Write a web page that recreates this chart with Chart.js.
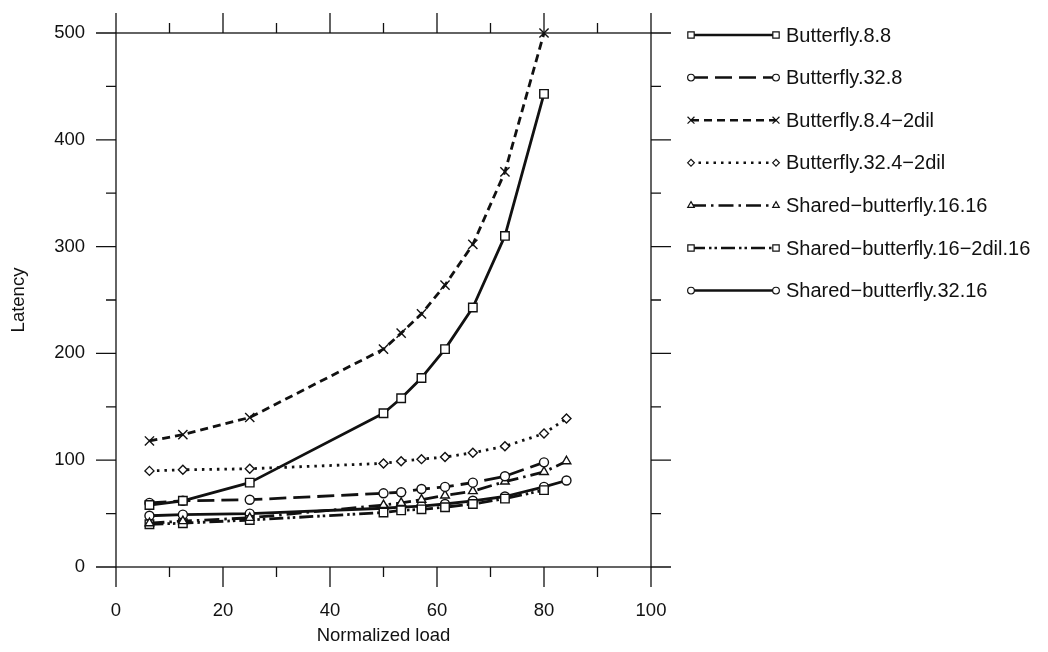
<!DOCTYPE html>
<html>
<head>
<meta charset="utf-8">
<script src="https://cdn.jsdelivr.net/npm/chart.js@4.4.1/dist/chart.umd.min.js"></script>
<style>
  html, body { margin: 0; padding: 0; background: #ffffff; }
  #wrap { width: 1048px; height: 652px; }
</style>
</head>
<body>
<div id="wrap"><canvas id="c" width="1048" height="652"></canvas></div>
<script>
// Normalized load at which each configuration was measured
const loadsShort = [6.25, 12.5, 25, 50, 53.3, 57.1, 61.5, 66.7, 72.7, 80];
const loadsLong  = [6.25, 12.5, 25, 50, 53.3, 57.1, 61.5, 66.7, 72.7, 80, 84.2];

// Latency per network configuration
const butterfly_8_8          = [58, 62, 79, 144, 158, 177, 204, 243, 310, 443];
const butterfly_32_8         = [60, 62, 63, 69, 70, 73, 75, 79, 85, 98];
const butterfly_8_4_2dil     = [118, 124, 140, 204, 219, 237, 264, 302, 370, 500];
const butterfly_32_4_2dil    = [90, 91, 92, 97, 99, 101, 103, 107, 113, 125, 139];
const shared_16_16           = [41, 43, 46, 58, 60, 63, 67, 71, 80, 89, 99];
const shared_16_2dil_16      = [40, 41, 44, 51, 53, 54, 56, 59, 64, 72];
const shared_32_16           = [48, 49, 50, 55, 56, 57, 59, 62, 66, 75, 81];

const seriesNames = [
  'Butterfly.8.8',
  'Butterfly.32.8',
  'Butterfly.8.4\u22122dil',
  'Butterfly.32.4\u22122dil',
  'Shared\u2212butterfly.16.16',
  'Shared\u2212butterfly.16\u22122dil.16',
  'Shared\u2212butterfly.32.16'
];

// Axis ticks
const xMajorTicks = [0, 20, 40, 60, 80, 100];
const xMinorTicks = [10, 30, 50, 70, 90];
const yMajorTicks = [0, 100, 200, 300, 400, 500];
const yMinorTicks = [50, 150, 250, 350, 450];

const INK = '#111111';
const FONT = '"Liberation Sans", Arial, Helvetica, sans-serif';

function pts(xs, ys) { return ys.map((y, i) => ({ x: xs[i], y: y })); }

function series(label, xs, ys, dash, style, radius) {
  return {
    label: label,
    data: pts(xs, ys),
    borderColor: INK,
    backgroundColor: '#ffffff',
    borderWidth: 2.8,
    borderDash: dash,
    borderCapStyle: 'butt',
    borderJoinStyle: 'round',
    pointStyle: style,
    pointRadius: radius,
    pointBorderWidth: 1.4,
    pointBorderColor: INK,
    pointBackgroundColor: '#ffffff',
    tension: 0,
    clip: 10,
    fill: false
  };
}

const datasets = [
  series(seriesNames[0], loadsShort, butterfly_8_8,       [],                      'rect',     6),
  series(seriesNames[1], loadsShort, butterfly_32_8,      [17, 7],                 'circle',   4.5),
  series(seriesNames[2], loadsShort, butterfly_8_4_2dil,  [8, 5],                  'crossRot', 6.5),
  series(seriesNames[3], loadsLong,  butterfly_32_4_2dil, [2.5, 5],                'rectRot',  4.5),
  series(seriesNames[4], loadsLong,  shared_16_16,        [15, 5, 2.5, 5],         'triangle', 5),
  series(seriesNames[5], loadsShort, shared_16_2dil_16,   [14, 4, 2.5, 3, 2.5, 4], 'rect',     6),
  series(seriesNames[6], loadsLong,  shared_32_16,        [],                      'circle',   4.5)
];

// Frame, outward ticks, tick labels, axis titles and the side legend
const frameAndLegend = {
  id: 'frameAndLegend',
  afterDraw(chart) {
    const ctx = chart.ctx;
    const xs = chart.scales.x, ys = chart.scales.y;
    const a = chart.chartArea;
    ctx.save();
    ctx.strokeStyle = INK;
    ctx.lineWidth = 1.3;
    ctx.setLineDash([]);
    // frame
    ctx.strokeRect(a.left, a.top, a.right - a.left, a.bottom - a.top);
    ctx.beginPath();
    xMajorTicks.forEach(v => {
      const px = xs.getPixelForValue(v);
      ctx.moveTo(px, a.bottom); ctx.lineTo(px, a.bottom + 20);
      ctx.moveTo(px, a.top);    ctx.lineTo(px, a.top - 20);
    });
    xMinorTicks.forEach(v => {
      const px = xs.getPixelForValue(v);
      ctx.moveTo(px, a.bottom); ctx.lineTo(px, a.bottom + 10);
      ctx.moveTo(px, a.top);    ctx.lineTo(px, a.top - 10);
    });
    yMajorTicks.forEach(v => {
      const py = ys.getPixelForValue(v);
      ctx.moveTo(a.left, py);  ctx.lineTo(a.left - 20, py);
      ctx.moveTo(a.right, py); ctx.lineTo(a.right + 20, py);
    });
    yMinorTicks.forEach(v => {
      const py = ys.getPixelForValue(v);
      ctx.moveTo(a.left, py);  ctx.lineTo(a.left - 10, py);
      ctx.moveTo(a.right, py); ctx.lineTo(a.right + 10, py);
    });
    ctx.stroke();

    // tick labels
    ctx.fillStyle = INK;
    ctx.font = '18.5px ' + FONT;
    ctx.textAlign = 'center';
    ctx.textBaseline = 'middle';
    xMajorTicks.forEach(v => ctx.fillText(String(v), xs.getPixelForValue(v), a.bottom + 44));
    ctx.textAlign = 'right';
    yMajorTicks.forEach(v => ctx.fillText(String(v), a.left - 31, ys.getPixelForValue(v)));

    // axis titles
    ctx.textAlign = 'center';
    ctx.fillText('Normalized load', (a.left + a.right) / 2, a.bottom + 69);
    ctx.save();
    ctx.translate(19, (a.top + a.bottom) / 2);
    ctx.rotate(-Math.PI / 2);
    ctx.fillText('Latency', 0, 0);
    ctx.restore();

    // legend
    const lx0 = 691, lx1 = 776, tx = 786, ly0 = 35, step = 42.6;
    ctx.font = '20px ' + FONT;
    chart.data.datasets.forEach((ds, i) => {
      const y = ly0 + i * step;
      ctx.lineWidth = 2.5;
      ctx.setLineDash(ds.borderDash.length ? ds.borderDash : []);
      ctx.beginPath();
      ctx.moveTo(lx0, y); ctx.lineTo(lx1, y);
      ctx.stroke();
      ctx.setLineDash([]);
      ctx.lineWidth = 1.2;
      ctx.fillStyle = '#ffffff';
      const opts = { pointStyle: ds.pointStyle, radius: ds.pointRadius * 0.75, rotation: 0, borderWidth: 1.2 };
      Chart.helpers.drawPoint(ctx, opts, lx0, y);
      Chart.helpers.drawPoint(ctx, opts, lx1, y);
      ctx.fillStyle = INK;
      ctx.textAlign = 'left';
      ctx.fillText(ds.label, tx, y + 1);
    });
    ctx.restore();
  }
};

new Chart(document.getElementById('c'), {
  type: 'line',
  data: { datasets: datasets },
  options: {
    responsive: false,
    devicePixelRatio: 1,
    animation: false,
    layout: { padding: { left: 116, right: 1048 - 651, top: 33, bottom: 652 - 567 } },
    plugins: { legend: { display: false }, tooltip: { enabled: false } },
    scales: {
      x: { type: 'linear', min: 0, max: 100, display: false },
      y: { type: 'linear', min: 0, max: 500, display: false }
    }
  },
  plugins: [frameAndLegend]
});
</script>
</body>
</html>
